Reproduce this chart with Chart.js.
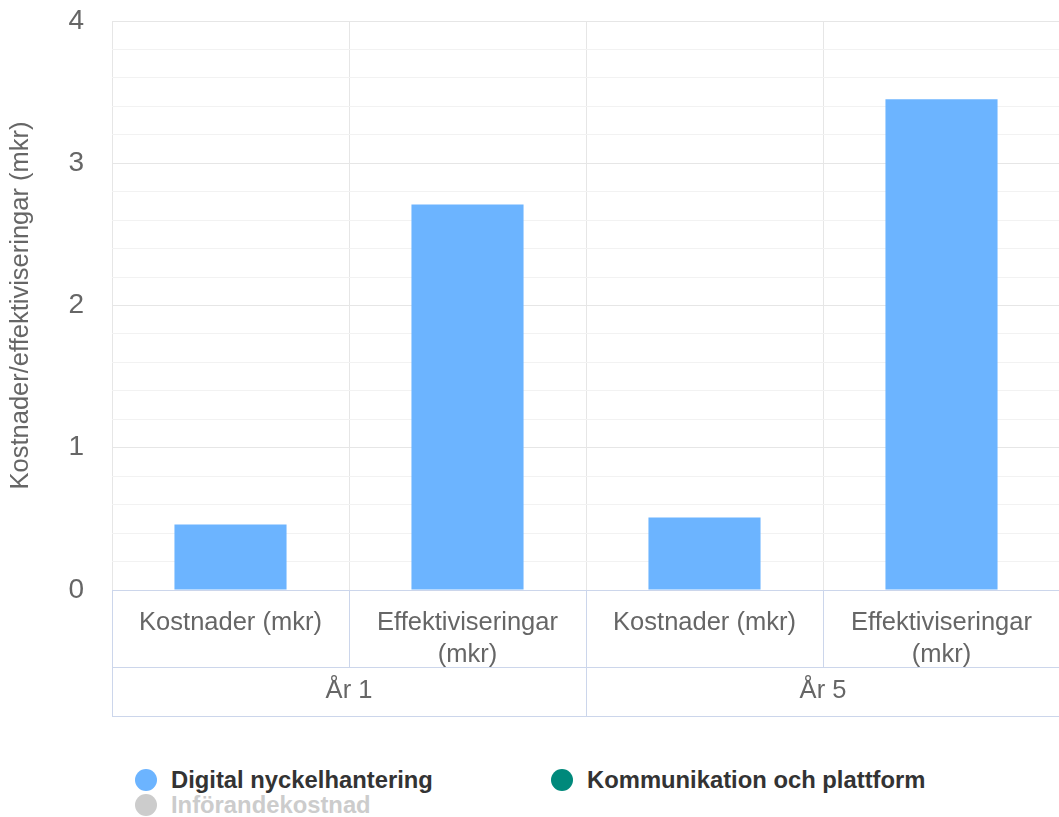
<!DOCTYPE html>
<html lang="sv">
<head>
<meta charset="utf-8">
<script src="https://cdn.jsdelivr.net/npm/chart.js@4/dist/chart.umd.min.js"></script>
<style>
  html, body { margin: 0; padding: 0; background: #fff; overflow: hidden; }
  #wrap { position: relative; width: 1061px; height: 817px; }
  #box { position: absolute; left: 0; top: 0; width: 1061px; height: 720px; }
  #legend { position: absolute; left: 0; top: 0; font: bold 23.8px "Liberation Sans", Arial, sans-serif; }
  .item { position: absolute; display: flex; align-items: center; white-space: nowrap; color: #333; }
  .item .dot { width: 22px; height: 22px; border-radius: 50%; margin-right: 14px; }
  .item.off { color: #cccccc; }
</style>
</head>
<body>
<div id="wrap">
  <div id="box"><canvas id="chart"></canvas></div>
  <div id="legend"></div>
</div>
<script>
const categories = ["Kostnader (mkr)", ["Effektiviseringar", "(mkr)"], "Kostnader (mkr)", ["Effektiviseringar", "(mkr)"]];
const groups = ["År 1", "År 5"];
const yTicks = [0, 1, 2, 3, 4];

const seriesNames = ["Digital nyckelhantering", "Kommunikation och plattform", "Införandekostnad"];
const seriesColors = ["#6cb4ff", "#00897b", "#cccccc"];
const seriesHidden = [false, false, true];
const digitalValues = [0.46, 2.71, 0.51, 3.45];
const kommunikationValues = [null, null, null, null];
const inforandeValues = [null, null, null, null];

const FONT = "'Liberation Sans', Arial, sans-serif";
const AXIS_LINE = "#ccd6eb";

// draws the grouped-category frame under the plot
const groupedAxisFrame = {
  id: "groupedAxisFrame",
  afterDraw(chart) {
    const ctx = chart.ctx;
    const x = chart.scales.x;
    const x2 = chart.scales.x2;
    const top = chart.chartArea.bottom;
    const n = x.ticks.length;
    const step = (x.right - x.left) / n;
    ctx.save();
    ctx.strokeStyle = AXIS_LINE;
    ctx.lineWidth = 1;
    ctx.beginPath();
    for (let i = 0; i <= n; i++) {
      const px = Math.round(x.left + step * i) + 0.5;
      const isGroupEdge = i % (n / groups.length) === 0;
      ctx.moveTo(px, top);
      ctx.lineTo(px, isGroupEdge ? x2.bottom : x.bottom);
    }
    ctx.moveTo(x.left, Math.round(x.bottom) + 0.5);
    ctx.lineTo(x.right, Math.round(x.bottom) + 0.5);
    ctx.moveTo(x.left, Math.round(x2.bottom) - 0.5);
    ctx.lineTo(x.right, Math.round(x2.bottom) - 0.5);
    ctx.stroke();
    ctx.restore();
  }
};

const datasets = [digitalValues, kommunikationValues, inforandeValues].map((vals, i) => ({
  label: seriesNames[i],
  data: vals,
  backgroundColor: seriesColors[i],
  hidden: seriesHidden[i],
  borderWidth: 0,
  categoryPercentage: 1,
  barPercentage: 0.473
}));

new Chart(document.getElementById("chart").getContext("2d"), {
  type: "bar",
  data: { labels: categories, datasets },
  plugins: [groupedAxisFrame],
  options: {
    responsive: true,
    maintainAspectRatio: false,
    animation: false,
    layout: { padding: { top: 4, right: 1, bottom: 3, left: 0 } },
    plugins: { legend: { display: false }, tooltip: { enabled: false } },
    scales: {
      x: {
        stacked: true,
        offset: true,
        grid: { offset: true, color: "#e6e6e6", drawTicks: false },
        border: { color: AXIS_LINE },
        ticks: {
          color: "#666",
          font: { family: FONT, size: 25.5, lineHeight: 1.25 },
          padding: 17,
          maxRotation: 0,
          autoSkip: false
        },
        afterFit(scale) { scale.height = 77; }
      },
      x2: {
        type: "category",
        labels: groups,
        offset: true,
        grid: { display: false },
        border: { display: false },
        ticks: { color: "#666", font: { family: FONT, size: 25.5 }, padding: 1 },
        afterFit(scale) { scale.height = 50; }
      },
      y: {
        stacked: true,
        min: 0,
        max: 4,
        afterBuildTicks(scale) {
          const t = [];
          for (let v = 0; v <= 20; v++) t.push({ value: v / 5 });
          scale.ticks = t;
        },
        grid: {
          drawTicks: false,
          color: ctx => yTicks.includes(ctx.tick.value) ? "#e6e6e6" : "#f2f2f2"
        },
        border: { display: false },
        ticks: {
          color: "#666",
          font: { family: FONT, size: 28 },
          padding: 28,
          autoSkip: false,
          callback: v => yTicks.includes(v) ? String(v) : ""
        },
        title: {
          display: true,
          text: "Kostnader/effektiviseringar (mkr)",
          color: "#666",
          font: { family: FONT, size: 25.5 },
          padding: { top: 6, bottom: 0 }
        },
        afterFit(scale) {
          scale.width = 112;
          scale.paddingTop = 21;
          scale.paddingBottom = 17;
        }
      }
    }
  }
});

// legend
const legendPos = [[135, 766], [551, 766], [135, 791]];
const legend = document.getElementById("legend");
seriesNames.forEach((name, i) => {
  const el = document.createElement("div");
  el.className = "item" + (seriesHidden[i] ? " off" : "");
  el.style.left = legendPos[i][0] + "px";
  el.style.top = legendPos[i][1] + "px";
  const dot = document.createElement("span");
  dot.className = "dot";
  dot.style.background = seriesColors[i];
  el.appendChild(dot);
  el.appendChild(document.createTextNode(name));
  legend.appendChild(el);
});
</script>
</body>
</html>
